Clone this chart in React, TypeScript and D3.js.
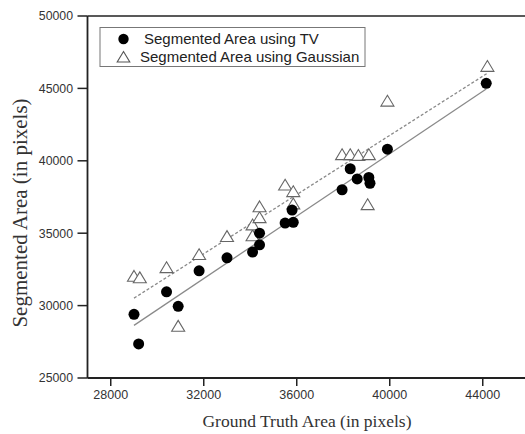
import * as d3 from "d3";

// Segmented Area using TV (filled circles)
const tvGround = [29200, 29000, 30400, 30900, 31800, 33000, 34100, 34400, 34400, 35500, 35850, 35800, 37950, 38300, 38600, 39100, 39150, 39900, 44150];
const tvArea = [27350, 29400, 30950, 29950, 32400, 33300, 33700, 34200, 35000, 35700, 35750, 36600, 38000, 39450, 38750, 38850, 38450, 40800, 45350];

// Segmented Area using Gaussian (open triangles)
const gaGround = [29000, 29250, 30400, 30900, 31800, 33000, 34100, 34100, 34400, 34400, 35500, 35850, 35850, 37950, 38300, 38650, 39100, 39050, 39900, 44200];
const gaArea = [32000, 31900, 32600, 28550, 33500, 34750, 34800, 35550, 36050, 36800, 38300, 37000, 37850, 40400, 40400, 40350, 40400, 36950, 44100, 46500];

const xTicks = [28000, 32000, 36000, 40000, 44000];
const yTicks = [25000, 30000, 35000, 40000, 45000, 50000];

const W = 525;
const H = 434;
const LEFT = 87.5;
const TOP = 16;
const BOTTOM = 378;

const x = d3.scaleLinear().domain([27000, 46000]).range([LEFT, LEFT + 19 * 23.25]);
const y = d3.scaleLinear().domain([25000, 50000]).range([BOTTOM, TOP]);

function fit(xs: number[], ys: number[]) {
  const mx = d3.mean(xs)!;
  const my = d3.mean(ys)!;
  let num = 0;
  let den = 0;
  xs.forEach((v, i) => {
    num += (v - mx) * (ys[i] - my);
    den += (v - mx) * (v - mx);
  });
  const b = num / den;
  const a = my - b * mx;
  const [x0, x1] = d3.extent(xs) as [number, number];
  return [
    [x0, a + b * x0],
    [x1, a + b * x1],
  ] as [number, number][];
}

const line = d3
  .line<[number, number]>()
  .x((d) => x(d[0]))
  .y((d) => y(d[1]));

const triPath = (cx: number, cy: number, s = 6.2) =>
  `M${cx},${cy - s}L${cx + s * 1.05},${cy + s * 0.75}L${cx - s * 1.05},${cy + s * 0.75}Z`;

export default function App() {
  const tvFit = fit(tvGround, tvArea);
  const gaFit = fit(gaGround, gaArea);
  const sans = "Liberation Sans, Arial, sans-serif";
  const serif = "Liberation Serif, Times New Roman, serif";

  return (
    <div style={{ position: "absolute", left: 0, top: 0 }}>
      <svg width={W} height={H} style={{ display: "block", background: "#fff" }}>
        {/* fit lines */}
        <path d={line(tvFit) || ""} stroke="#8a8a8a" strokeWidth={1.3} fill="none" />
        <path d={line(gaFit) || ""} stroke="#8a8a8a" strokeWidth={1.3} strokeDasharray="3,2" fill="none" />

        {/* points */}
        {gaGround.map((g, i) => (
          <path key={"t" + i} d={triPath(x(g), y(gaArea[i]))} fill="#fff" stroke="#666" strokeWidth={1.1} />
        ))}
        {tvGround.map((g, i) => (
          <circle key={"c" + i} cx={x(g)} cy={y(tvArea[i])} r={5.5} fill="#000" />
        ))}

        {/* frame */}
        <line x1={LEFT} x2={W} y1={TOP} y2={TOP} stroke="#222" strokeWidth={1.6} />
        <line x1={LEFT} x2={W} y1={BOTTOM} y2={BOTTOM} stroke="#222" strokeWidth={1.8} />
        <line x1={LEFT} x2={LEFT} y1={TOP} y2={BOTTOM} stroke="#222" strokeWidth={1.8} />

        {/* x axis */}
        {xTicks.map((t) => (
          <g key={t}>
            <line x1={x(t)} x2={x(t)} y1={BOTTOM} y2={BOTTOM + 8} stroke="#222" strokeWidth={1.5} />
            <text x={x(t)} y={399} textAnchor="middle" fontFamily={sans} fontSize={12.5} fill="#333">
              {t}
            </text>
          </g>
        ))}
        <text x={307} y={427} textAnchor="middle" fontFamily={serif} fontSize={17.5} fill="#333">
          Ground Truth Area (in pixels)
        </text>

        {/* y axis */}
        {yTicks.map((t) => (
          <g key={t}>
            <line x1={LEFT - 10} x2={LEFT} y1={y(t)} y2={y(t)} stroke="#222" strokeWidth={1.5} />
            <text x={73} y={y(t)} dy="0.35em" textAnchor="end" fontFamily={sans} fontSize={12.3} fill="#333">
              {t}
            </text>
          </g>
        ))}
        <text
          transform={`translate(27,${(96 + 330) / 2}) rotate(-90)`}
          textAnchor="middle"
          fontFamily={serif}
          fontSize={21}
          fill="#333"
        >
          Segmented Area (in pixels)
        </text>

        {/* legend */}
        <rect x={100} y={27.5} width={265} height={39} fill="#fff" stroke="#777" strokeWidth={1} />
        <circle cx={123.5} cy={39} r={5.2} fill="#000" />
        <text x={144} y={44} fontFamily={sans} fontSize={15} fill="#222">
          Segmented Area using TV
        </text>
        <path d={triPath(123.5, 57.5, 6)} fill="#fff" stroke="#555" strokeWidth={1.1} />
        <text x={140} y={62} fontFamily={sans} fontSize={15} fill="#222">
          Segmented Area using Gaussian
        </text>
      </svg>
    </div>
  );
}
